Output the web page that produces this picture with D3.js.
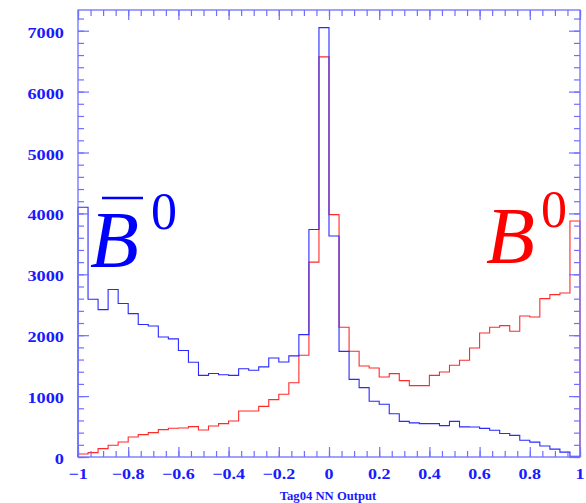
<!DOCTYPE html>
<html>
<head>
<meta charset="utf-8">
<script src="https://cdn.jsdelivr.net/npm/d3@7"></script>
<style>
  body { margin: 0; background: #fff; }
  svg { display: block; }
</style>
</head>
<body>
<script>
// histogram: 50 bins from -1 to 1
var xMin = -1, xMax = 1, nBins = 50;

// B0bar (blue) counts per bin
var b0barCounts = [4100, 2590, 2420, 2750, 2520, 2355, 2175, 2150, 1970, 1940,
                   1750, 1555, 1340, 1370, 1350, 1340, 1450, 1425, 1480, 1625,
                   1560, 1660, 2010, 3735, 7050, 3630, 1735, 1275, 1140, 915,
                   865, 710, 585, 560, 548, 548, 515, 585, 495, 493,
                   470, 440, 385, 355, 275, 245, 180, 130, 80, 12];

// B0 (red) counts per bin
var b0Counts = [50, 72, 137, 192, 246, 328, 367, 400, 449, 471,
                476, 499, 443, 509, 548, 591, 755, 755, 832, 942,
                1030, 1220, 1670, 3200, 6570, 3980, 2130, 1736, 1495, 1462,
                1314, 1369, 1254, 1172, 1172, 1341, 1396, 1506, 1588, 1790,
                2036, 2130, 2157, 2064, 2316, 2299, 2601, 2667, 2693, 3875];

var xTicks = [-1, -0.8, -0.6, -0.4, -0.2, 0, 0.2, 0.4, 0.6, 0.8, 1];
var yTicks = [0, 1000, 2000, 3000, 4000, 5000, 6000, 7000];
var xTitle = "Tag04 NN Output";

var W = 586, H = 503;
var pLeft = 78, pRight = 580, pTop = 10, pBottom = 457;
var axisColor = "#6f6fff";

var svg = d3.select("body").append("svg")
    .attr("width", W)
    .attr("height", H);

var x = d3.scaleLinear().domain([xMin, xMax]).range([pLeft, pRight]);
var y = d3.scaleLinear().domain([0, 7340]).range([pBottom, pTop]);

var binW = (xMax - xMin) / nBins;

function histPoints(counts) {
  var pts = [[xMin, 0]];
  counts.forEach(function(c, i) { pts.push([xMin + i * binW, c]); });
  pts.push([xMax, 0]);
  return pts;
}

var line = d3.line()
    .x(function(d) { return x(d[0]); })
    .y(function(d) { return y(d[1]); })
    .curve(d3.curveStepAfter);

svg.append("path")
    .attr("d", line(histPoints(b0Counts)))
    .attr("fill", "none")
    .attr("stroke", "#ff2a2a")
    .attr("stroke-width", 1.1);

svg.append("path")
    .attr("d", line(histPoints(b0barCounts)))
    .attr("fill", "none")
    .attr("stroke", "#2a2aff")
    .attr("stroke-width", 1.1);

// ticks on all four sides, pointing inward
var xMinor = d3.range(-1, 1.0001, 0.05);
var yMinor = d3.range(0, 7300, 200);

function drawAxis(axis, tr) {
  var g = svg.append("g").attr("transform", tr).call(axis);
  g.selectAll("text").remove();
  g.select(".domain").remove();
  g.selectAll("line").attr("stroke", axisColor).attr("stroke-width", 1.2);
  return g;
}

drawAxis(d3.axisBottom(x).tickValues(xMinor).tickSize(-6).tickFormat(""), "translate(0," + pBottom + ")");
drawAxis(d3.axisBottom(x).tickValues(xTicks).tickSize(-10).tickFormat(""), "translate(0," + pBottom + ")");
drawAxis(d3.axisTop(x).tickValues(xMinor).tickSize(-6).tickFormat(""), "translate(0," + pTop + ")");
drawAxis(d3.axisTop(x).tickValues(xTicks).tickSize(-10).tickFormat(""), "translate(0," + pTop + ")");
drawAxis(d3.axisLeft(y).tickValues(yMinor).tickSize(-6).tickFormat(""), "translate(" + pLeft + ",0)");
drawAxis(d3.axisLeft(y).tickValues(yTicks).tickSize(-11).tickFormat(""), "translate(" + pLeft + ",0)");
drawAxis(d3.axisRight(y).tickValues(yMinor).tickSize(-6).tickFormat(""), "translate(" + pRight + ",0)");
drawAxis(d3.axisRight(y).tickValues(yTicks).tickSize(-11).tickFormat(""), "translate(" + pRight + ",0)");

// frame
svg.append("rect")
    .attr("x", pLeft).attr("y", pTop)
    .attr("width", pRight - pLeft).attr("height", pBottom - pTop)
    .attr("fill", "none")
    .attr("stroke", axisColor)
    .attr("stroke-width", 1.3);

// tick labels
var fmt = function(v) { return v < 0 ? "\u2212" + (-v) : String(v); };

svg.selectAll(".xlab")
    .data(xTicks)
    .enter().append("text")
    .attr("transform", function(d) { return "translate(" + x(d) + ",479) scale(1.2,1)"; })
    .attr("text-anchor", "middle")
    .attr("font-family", "Liberation Serif")
    .attr("font-weight", "bold")
    .attr("font-size", "15px")
    .attr("fill", "#1a1aff")
    .text(fmt);

svg.selectAll(".ylab")
    .data(yTicks)
    .enter().append("text")
    .attr("transform", function(d) { return "translate(64," + (y(d) + 7) + ") scale(1.22,1)"; })
    .attr("text-anchor", "end")
    .attr("font-family", "Liberation Serif")
    .attr("font-weight", "bold")
    .attr("font-size", "15px")
    .attr("fill", "#1a1aff")
    .text(fmt);

svg.append("text")
    .attr("transform", "translate(328,500) scale(1.1,1)")
    .attr("text-anchor", "middle")
    .attr("font-family", "Liberation Serif")
    .attr("font-weight", "bold")
    .attr("font-size", "11.5px")
    .attr("fill", "#1a1aff")
    .text(xTitle);

// particle labels
var bBar = svg.append("g").attr("fill", "#0000ff").attr("font-family", "Liberation Serif");
bBar.append("text").attr("x", 90).attr("y", 267)
    .attr("font-size", "80px").attr("font-style", "italic").text("B");
bBar.append("text").attr("x", 151).attr("y", 229)
    .attr("font-size", "52px").text("0");
bBar.append("line")
    .attr("x1", 102).attr("x2", 143).attr("y1", 198).attr("y2", 198)
    .attr("stroke", "#0000ff").attr("stroke-width", 2.5);

var b0 = svg.append("g").attr("fill", "#ff0000").attr("font-family", "Liberation Serif");
b0.append("text").attr("x", 486).attr("y", 263)
    .attr("font-size", "80px").attr("font-style", "italic").text("B");
b0.append("text").attr("x", 541).attr("y", 227)
    .attr("font-size", "52px").text("0");
</script>
</body>
</html>
